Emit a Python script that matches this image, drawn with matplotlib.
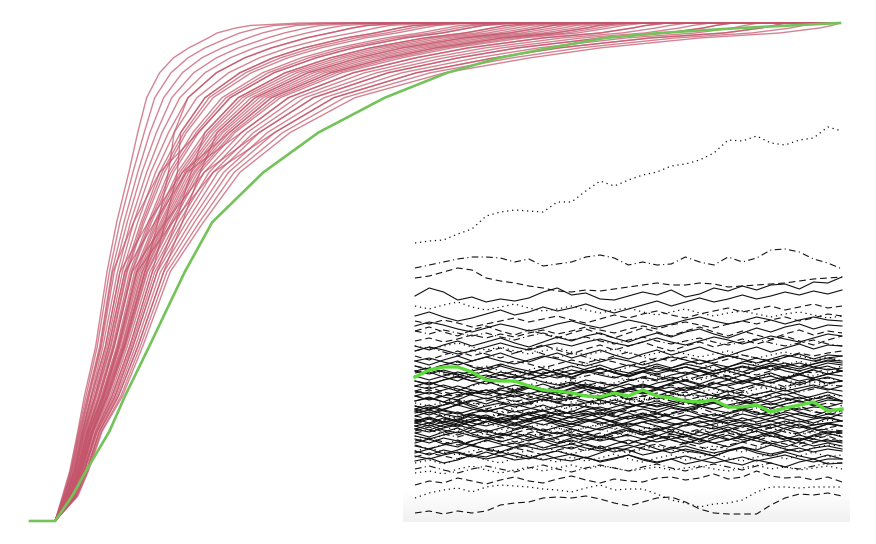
import matplotlib
matplotlib.use('Agg')
import matplotlib.pyplot as plt
from matplotlib.colors import LinearSegmentedColormap
import numpy as np

# ---- main panel: red runs, given as the step where each run reaches a level
levels = [0.05, 0.10, 0.18, 0.25, 0.35, 0.50, 0.60, 0.70, 0.78,
          0.85, 0.90, 0.93, 0.95, 0.97, 0.98, 0.99, 0.995, 1.00]
start_step = 3.1
last_step = 100

red_runs = [
    [4.0, 4.9, 5.9, 6.7, 8.1, 9.5, 10.7, 12.2, 13.3, 14.4, 16.0, 17.7, 19.6, 22.0, 23.1, 25.4, 27.2, 33.3],
    [4.1, 5.0, 6.0, 6.9, 8.3, 9.8, 11.1, 12.7, 14.1, 15.4, 17.4, 19.5, 21.6, 24.4, 25.9, 28.3, 30.1, 36.0],
    [4.2, 5.1, 6.1, 7.1, 8.6, 10.1, 11.6, 13.3, 14.8, 16.5, 18.8, 21.2, 23.7, 26.9, 28.7, 31.2, 32.9, 38.6],
    [4.2, 5.2, 6.3, 7.3, 8.8, 10.4, 12.0, 13.8, 15.6, 17.5, 20.2, 23.0, 25.7, 29.3, 31.4, 34.1, 35.8, 41.3],
    [4.3, 5.3, 6.4, 7.5, 9.0, 10.8, 12.4, 14.4, 16.3, 18.5, 21.6, 24.7, 27.7, 31.7, 34.2, 36.9, 38.7, 44.0],
    [4.4, 5.4, 6.5, 7.6, 9.3, 11.1, 12.8, 14.9, 17.1, 19.5, 23.0, 26.5, 29.8, 34.1, 37.0, 39.8, 41.6, 46.6],
    [4.5, 5.5, 6.6, 7.8, 9.5, 11.4, 13.3, 15.5, 17.8, 20.6, 24.5, 28.3, 31.8, 36.6, 39.8, 42.7, 44.4, 49.3],
    [4.5, 5.5, 6.7, 8.0, 9.7, 11.7, 13.7, 16.0, 18.6, 21.6, 25.9, 30.0, 33.8, 39.0, 42.6, 45.6, 47.3, 52.0],
    [4.6, 5.6, 6.8, 8.1, 9.9, 11.9, 13.9, 16.3, 19.0, 22.1, 26.6, 30.9, 34.9, 40.2, 44.0, 47.1, 48.8, 53.3],
    [4.6, 5.6, 6.9, 8.2, 10.0, 12.0, 14.1, 16.6, 19.3, 22.6, 27.3, 31.8, 35.9, 41.4, 45.3, 48.5, 50.2, 54.6],
    [4.7, 5.7, 7.0, 8.4, 10.2, 12.3, 14.6, 17.1, 20.1, 23.7, 28.7, 33.5, 37.9, 43.9, 48.1, 51.4, 53.1, 57.3],
    [4.8, 5.8, 7.1, 8.5, 10.3, 12.5, 14.8, 17.4, 20.5, 24.2, 29.4, 34.4, 38.9, 45.1, 49.5, 52.8, 54.5, 58.7],
    [4.8, 5.8, 7.1, 8.6, 10.4, 12.6, 15.0, 17.7, 20.8, 24.7, 30.1, 35.3, 39.9, 46.3, 50.9, 54.2, 55.9, 60.0],
    [4.8, 5.9, 7.2, 8.8, 10.7, 12.9, 15.4, 18.2, 21.6, 25.7, 31.5, 37.1, 42.0, 48.7, 53.7, 57.1, 58.8, 62.7],
    [4.9, 6.0, 7.3, 8.9, 10.8, 13.1, 15.6, 18.5, 22.0, 26.2, 32.2, 38.0, 43.0, 49.9, 55.1, 58.6, 60.3, 64.0],
    [4.9, 6.0, 7.3, 9.0, 10.9, 13.2, 15.8, 18.8, 22.3, 26.7, 32.9, 38.8, 44.0, 51.1, 56.5, 60.0, 61.7, 65.3],
    [5.0, 6.1, 7.4, 9.1, 11.0, 13.4, 16.1, 19.1, 22.7, 27.3, 33.6, 39.7, 45.0, 52.4, 57.9, 61.5, 63.1, 66.7],
    [5.0, 6.1, 7.5, 9.1, 11.1, 13.6, 16.3, 19.3, 23.1, 27.8, 34.3, 40.6, 46.0, 53.6, 59.2, 62.9, 64.5, 68.0],
    [5.1, 6.2, 7.6, 9.2, 11.3, 13.8, 16.5, 19.6, 23.5, 28.3, 35.0, 41.5, 47.1, 54.8, 60.6, 64.4, 66.0, 69.4],
    [5.1, 6.2, 7.6, 9.3, 11.4, 13.9, 16.7, 19.9, 23.8, 28.8, 35.7, 42.3, 48.1, 56.0, 62.0, 65.8, 67.4, 70.7],
    [5.1, 6.3, 7.7, 9.4, 11.5, 14.1, 16.9, 20.2, 24.2, 29.3, 36.4, 43.2, 49.1, 57.2, 63.4, 67.3, 68.9, 72.0],
    [5.1, 6.3, 7.7, 9.5, 11.6, 14.2, 17.1, 20.4, 24.6, 29.8, 37.1, 44.1, 50.1, 58.4, 64.8, 68.7, 70.3, 73.3],
    [5.2, 6.4, 7.8, 9.6, 11.7, 14.4, 17.4, 20.7, 25.0, 30.4, 37.8, 45.0, 51.1, 59.7, 66.2, 70.1, 71.8, 74.7],
    [5.2, 6.4, 7.8, 9.7, 11.8, 14.5, 17.6, 21.0, 25.3, 30.9, 38.5, 45.9, 52.1, 60.9, 67.6, 71.5, 73.2, 76.0],
    [5.3, 6.5, 7.9, 9.9, 12.0, 14.8, 18.0, 21.5, 26.1, 31.9, 39.9, 47.6, 54.1, 63.3, 70.4, 74.4, 76.0, 78.7],
    [5.4, 6.6, 8.1, 10.1, 12.3, 15.1, 18.4, 22.1, 26.8, 32.9, 41.3, 49.4, 56.2, 65.7, 73.1, 77.3, 78.9, 81.3],
    [5.4, 6.7, 8.2, 10.3, 12.5, 15.4, 18.8, 22.6, 27.6, 33.9, 42.8, 51.1, 58.2, 68.1, 75.9, 80.2, 81.8, 84.0],
    [5.5, 6.7, 8.3, 10.5, 12.7, 15.7, 19.3, 23.2, 28.3, 35.0, 44.2, 52.9, 60.2, 70.6, 78.7, 83.1, 84.6, 86.7],
    [5.6, 6.9, 8.5, 10.7, 13.0, 16.1, 19.8, 23.9, 29.3, 36.3, 45.9, 55.1, 62.8, 73.6, 82.2, 86.7, 88.2, 90.0],
    [5.7, 7.0, 8.6, 10.9, 13.3, 16.5, 20.3, 24.5, 30.2, 37.5, 47.7, 57.3, 65.3, 76.6, 85.7, 90.3, 91.8, 93.3],
    [5.8, 7.1, 8.8, 11.2, 13.6, 16.9, 20.9, 25.2, 31.2, 38.8, 49.4, 59.5, 67.9, 79.7, 89.1, 93.9, 95.4, 96.7],
    [5.9, 7.2, 8.9, 11.4, 13.9, 17.3, 21.4, 25.9, 32.1, 40.1, 51.2, 61.7, 70.4, 82.7, 92.6, 97.5, 99.0, 100],
    # runs that change place inside the bundle
    [4.5, 5.5, 6.7, 8.0, 9.7, 11.7, 15.4, 19.3, 26.1, 31.9, 39.9, 47.6, 54.1, 63.3, 70.4, 74.4, 76.0, 78.7],
    [5.4, 6.6, 8.1, 10.1, 12.3, 15.1, 16.7, 18.2, 18.6, 21.6, 25.9, 30.0, 33.8, 39.0, 42.6, 45.6, 47.3, 52.0],
    [4.9, 6.0, 7.3, 9.0, 10.9, 13.2, 17.6, 22.6, 30.2, 37.5, 47.7, 57.3, 65.3, 76.6, 85.7, 90.3, 91.8, 93.3],
    [5.7, 7.0, 8.6, 10.9, 13.3, 16.5, 18.8, 21.0, 23.1, 27.8, 34.3, 40.6, 46.0, 53.6, 59.2, 62.9, 64.5, 68.0],
    [4.2, 5.1, 6.2, 7.2, 8.7, 10.2, 12.8, 16.0, 20.8, 24.7, 30.1, 35.3, 39.9, 46.3, 50.9, 54.2, 55.9, 60.0],
    [5.1, 6.3, 7.7, 9.5, 11.6, 14.2, 15.8, 17.1, 17.8, 19.5, 23.0, 26.5, 29.8, 34.1, 37.0, 39.8, 41.6, 46.6],
    [4.8, 5.8, 7.1, 8.6, 10.4, 12.6, 16.7, 21.5, 28.3, 35.0, 44.2, 52.9, 60.2, 70.6, 78.7, 83.1, 84.6, 86.7],
    [4.4, 5.4, 6.5, 7.6, 9.3, 11.1, 14.6, 18.8, 24.6, 29.8, 37.1, 44.1, 50.1, 58.4, 64.8, 68.7, 70.3, 73.3],
    [5.5, 6.7, 8.3, 10.5, 12.7, 15.7, 18.0, 19.9, 21.6, 25.7, 31.5, 37.1, 42.0, 48.7, 53.7, 57.1, 58.8, 62.7],
]
green_run = [5.2, 6.9, 9.8, 11.7, 14.7, 19.1, 22.5, 28.8, 35.6, 43.8, 51.5,
             57.9, 64.2, 71.0, 77.8, 87.7, 93.8, 100]

# ---- inset: walks sampled at 31 equal steps
solid_walks = [
    [225, 233, 229, 221, 224, 219, 222, 220, 223, 229, 233, 226, 228, 222, 221, 225, 229, 226, 231, 224, 227, 233, 230, 235, 231, 236, 237, 232, 239, 238, 244],
    [205, 209, 204, 200, 203, 207, 211, 206, 209, 214, 210, 213, 217, 212, 208, 212, 216, 220, 215, 219, 223, 219, 222, 226, 222, 225, 229, 226, 230, 227, 231],
    [195, 199, 196, 192, 189, 193, 197, 194, 190, 193, 197, 200, 196, 193, 197, 201, 198, 194, 197, 201, 204, 200, 197, 200, 204, 201, 197, 201, 204, 201, 200],
    [170, 174, 171, 167, 170, 174, 178, 174, 171, 175, 178, 175, 179, 182, 178, 175, 179, 183, 179, 176, 180, 184, 181, 177, 181, 185, 182, 179, 183, 187, 185],
    [160, 163, 159, 156, 160, 164, 160, 157, 161, 165, 162, 158, 155, 159, 163, 160, 156, 160, 164, 161, 157, 161, 165, 162, 158, 162, 166, 163, 160, 163, 165],
    [150, 153, 149, 146, 150, 153, 157, 153, 150, 147, 151, 155, 151, 148, 152, 156, 153, 149, 153, 157, 154, 150, 154, 158, 155, 151, 155, 158, 154, 151, 153],
    [145, 141, 145, 149, 146, 142, 146, 150, 147, 143, 147, 151, 148, 152, 149, 145, 149, 153, 150, 154, 151, 147, 151, 155, 152, 156, 153, 150, 154, 158, 156],
    [140, 137, 141, 144, 140, 137, 141, 145, 142, 146, 143, 147, 150, 146, 143, 147, 150, 147, 151, 154, 150, 147, 151, 154, 151, 155, 158, 154, 157, 160, 158],
    [130, 127, 131, 135, 131, 128, 132, 136, 133, 129, 126, 130, 134, 131, 127, 131, 135, 132, 128, 132, 136, 133, 129, 133, 137, 134, 130, 133, 136, 132, 130],
    [125, 121, 125, 129, 126, 122, 126, 130, 127, 131, 128, 132, 135, 131, 128, 132, 136, 133, 137, 140, 136, 133, 137, 140, 137, 141, 144, 140, 143, 147, 145],
    [120, 123, 119, 116, 120, 123, 119, 116, 119, 122, 118, 115, 118, 121, 117, 114, 117, 120, 116, 113, 116, 119, 115, 112, 115, 118, 114, 111, 114, 113, 110],
    [112, 108, 112, 116, 112, 109, 113, 117, 113, 110, 114, 117, 114, 110, 114, 118, 114, 111, 115, 119, 115, 112, 116, 119, 116, 113, 117, 120, 116, 114, 118],
    [108, 111, 107, 104, 108, 111, 107, 104, 107, 110, 106, 103, 106, 109, 105, 102, 105, 108, 104, 101, 104, 107, 103, 100, 103, 106, 102, 99, 102, 104, 100],
    [100, 103, 99, 96, 100, 104, 100, 97, 101, 104, 100, 97, 100, 103, 99, 96, 99, 102, 98, 95, 98, 101, 97, 94, 97, 100, 96, 93, 96, 98, 95],
    [98, 95, 99, 102, 98, 95, 99, 103, 100, 96, 100, 104, 101, 97, 101, 105, 102, 98, 102, 106, 103, 99, 103, 107, 104, 100, 104, 108, 105, 102, 108],
    [92, 89, 93, 96, 92, 89, 93, 97, 93, 90, 94, 97, 94, 91, 95, 98, 94, 91, 95, 99, 95, 92, 96, 99, 96, 93, 97, 100, 96, 98, 100],
    [85, 82, 86, 89, 85, 82, 85, 88, 84, 81, 84, 87, 83, 80, 83, 86, 82, 79, 82, 85, 81, 78, 81, 84, 80, 77, 80, 83, 79, 81, 78],
    [75, 72, 76, 79, 75, 72, 75, 78, 74, 71, 74, 77, 73, 70, 73, 76, 72, 69, 72, 75, 71, 68, 71, 74, 70, 67, 70, 73, 69, 72, 70],
    [65, 62, 66, 69, 65, 62, 65, 68, 64, 61, 64, 67, 63, 60, 63, 66, 62, 59, 62, 65, 61, 58, 61, 64, 60, 63, 66, 62, 59, 62, 62],
    [110, 114, 110, 107, 111, 115, 118, 114, 118, 122, 119, 123, 126, 122, 126, 130, 127, 131, 134, 130, 134, 138, 135, 139, 142, 138, 142, 146, 143, 147, 150],
    [150, 147, 151, 147, 143, 146, 142, 139, 143, 139, 136, 139, 135, 132, 136, 132, 129, 132, 128, 125, 129, 125, 122, 126, 122, 119, 123, 120, 117, 121, 120],
    [95, 98, 94, 98, 102, 99, 103, 106, 102, 106, 110, 107, 111, 114, 110, 114, 118, 115, 119, 122, 118, 122, 126, 123, 127, 130, 126, 130, 134, 131, 135],
    [135, 132, 136, 132, 128, 131, 127, 124, 128, 124, 121, 124, 120, 117, 121, 117, 114, 118, 114, 111, 115, 111, 108, 112, 108, 105, 109, 106, 103, 107, 105],
    [100, 104, 99, 101, 107, 103, 98, 102, 108, 111, 106, 109, 115, 112, 108, 113, 118, 114, 117, 121, 116, 119, 124, 120, 118, 123, 127, 122, 125, 129, 125],
    [110, 106, 111, 108, 103, 106, 101, 104, 109, 105, 100, 97, 102, 99, 95, 99, 104, 100, 96, 99, 94, 97, 101, 98, 93, 96, 100, 95, 92, 97, 95],
    [120, 124, 119, 125, 129, 126, 131, 128, 133, 137, 132, 136, 141, 138, 135, 140, 144, 141, 146, 149, 145, 150, 153, 149, 154, 158, 155, 152, 157, 161, 160],
    [140, 136, 141, 145, 140, 144, 149, 146, 142, 147, 151, 147, 152, 156, 151, 148, 153, 157, 153, 158, 161, 157, 154, 159, 163, 159, 164, 167, 162, 166, 165],
    [115, 111, 116, 120, 114, 110, 113, 109, 112, 116, 111, 107, 110, 106, 111, 108, 103, 107, 104, 100, 105, 102, 98, 103, 99, 103, 107, 102, 98, 103, 100],
    [95, 91, 96, 100, 95, 99, 103, 98, 102, 106, 103, 99, 104, 108, 104, 109, 112, 108, 113, 110, 114, 118, 113, 117, 121, 116, 120, 124, 119, 123, 120],
    [145, 149, 144, 140, 146, 150, 146, 143, 148, 152, 147, 143, 149, 153, 148, 145, 150, 155, 151, 147, 152, 156, 150, 146, 151, 155, 150, 147, 152, 155, 150],
    [125, 129, 124, 121, 127, 131, 126, 130, 134, 129, 133, 137, 132, 128, 133, 137, 133, 138, 141, 136, 132, 137, 141, 137, 142, 145, 140, 136, 141, 144, 140],
    [155, 151, 156, 160, 154, 150, 155, 151, 147, 152, 148, 144, 149, 153, 148, 144, 149, 145, 141, 146, 150, 145, 141, 146, 142, 138, 143, 147, 142, 138, 140],
    [105, 109, 104, 100, 106, 102, 98, 103, 107, 102, 98, 94, 99, 103, 98, 94, 99, 95, 91, 96, 100, 95, 91, 96, 92, 88, 93, 97, 92, 88, 90],
    [135, 139, 134, 130, 136, 140, 135, 131, 136, 132, 128, 133, 137, 132, 128, 133, 129, 125, 130, 134, 129, 125, 130, 126, 122, 127, 131, 126, 122, 126, 120],
    [160, 156, 161, 165, 160, 164, 168, 163, 159, 164, 168, 163, 167, 171, 166, 162, 167, 171, 166, 170, 174, 169, 165, 170, 174, 169, 173, 177, 172, 176, 175],
    [88, 84, 89, 93, 87, 83, 88, 84, 80, 85, 89, 84, 80, 85, 81, 77, 82, 86, 81, 77, 82, 78, 74, 79, 83, 78, 74, 79, 75, 78, 75],
    [98, 102, 97, 94, 100, 104, 99, 95, 100, 104, 100, 105, 108, 103, 99, 104, 108, 103, 107, 111, 106, 102, 107, 111, 106, 110, 114, 109, 105, 110, 112],
    [112, 116, 111, 117, 121, 117, 122, 126, 121, 125, 130, 126, 131, 134, 129, 133, 137, 133, 138, 141, 137, 142, 145, 140, 144, 148, 143, 147, 151, 147, 150],
    [78, 82, 77, 74, 80, 84, 79, 83, 87, 82, 78, 83, 87, 83, 88, 91, 86, 90, 94, 89, 85, 90, 94, 89, 93, 97, 92, 88, 93, 97, 95],
    [60, 63, 58, 61, 66, 64, 69, 65, 62, 67, 70, 66, 63, 68, 73, 71, 66, 69, 74, 70, 68, 65, 70, 74, 71, 76, 72, 69, 73, 75, 72],
    [70, 66, 71, 68, 64, 69, 65, 61, 63, 67, 62, 60, 64, 59, 62, 66, 61, 58, 62, 57, 60, 64, 59, 56, 61, 58, 54, 59, 62, 57, 58],
    [82, 78, 83, 80, 76, 81, 77, 73, 76, 80, 75, 72, 77, 73, 69, 73, 77, 72, 68, 72, 69, 65, 70, 73, 68, 65, 69, 65, 62, 66, 62],
    [92, 96, 91, 88, 94, 90, 86, 91, 95, 90, 87, 92, 88, 84, 89, 93, 88, 85, 90, 86, 82, 87, 91, 86, 83, 88, 84, 80, 85, 88, 84],
    [175, 171, 176, 180, 175, 179, 183, 178, 174, 179, 184, 180, 185, 188, 183, 179, 184, 188, 184, 189, 192, 187, 183, 188, 193, 189, 194, 197, 192, 196, 195],
    [68, 72, 67, 71, 76, 72, 69, 74, 78, 73, 77, 81, 76, 72, 77, 81, 77, 82, 85, 80, 77, 82, 86, 81, 85, 89, 84, 81, 86, 90, 88],
    [102, 98, 103, 99, 95, 100, 96, 92, 97, 101, 96, 92, 88, 93, 97, 92, 88, 92, 87, 84, 89, 85, 81, 86, 90, 85, 82, 86, 82, 79, 80],
]
dashed_walks = [
    [243, 245, 249, 253, 251, 243, 240, 238, 235, 233, 230, 229, 231, 230, 232, 234, 236, 238, 236, 236, 238, 237, 234, 235, 236, 237, 238, 240, 242, 243, 244],
    [200, 197, 201, 198, 194, 197, 200, 203, 199, 202, 205, 201, 198, 202, 206, 203, 207, 210, 206, 203, 207, 210, 213, 209, 212, 215, 211, 214, 217, 213, 215],
    [180, 183, 179, 182, 186, 183, 187, 184, 188, 191, 187, 190, 194, 191, 188, 192, 195, 192, 196, 199, 196, 193, 197, 200, 197, 201, 204, 200, 203, 207, 205],
    [155, 152, 156, 159, 155, 152, 156, 160, 157, 153, 157, 161, 158, 162, 159, 155, 159, 163, 160, 164, 161, 158, 162, 166, 163, 160, 164, 168, 165, 168, 170],
    [128, 131, 127, 124, 128, 131, 127, 124, 127, 130, 126, 123, 126, 129, 125, 122, 125, 128, 124, 121, 124, 127, 123, 120, 123, 126, 122, 119, 122, 124, 120],
    [105, 102, 106, 109, 105, 102, 106, 110, 106, 103, 107, 110, 107, 104, 108, 111, 107, 104, 108, 112, 108, 105, 109, 112, 109, 106, 110, 113, 109, 107, 112],
    [80, 83, 79, 76, 80, 83, 80, 77, 81, 84, 80, 77, 81, 84, 81, 78, 82, 85, 81, 78, 82, 86, 82, 79, 83, 86, 83, 80, 84, 86, 88],
    [36, 40, 38, 43, 40, 37, 41, 44, 40, 38, 42, 45, 41, 38, 42, 40, 39, 43, 44, 41, 43, 47, 42, 44, 50, 45, 43, 44, 41, 44, 39],
    [8, 10, 7, 10, 8, 10, 16, 18, 19, 23, 24, 23, 25, 22, 18, 15, 19, 23, 24, 19, 12, 8, 7, 7, 7, 16, 23, 27, 26, 28, 25],
    [125, 122, 126, 129, 126, 130, 133, 130, 134, 131, 135, 138, 135, 139, 136, 140, 143, 140, 144, 141, 145, 148, 145, 149, 146, 150, 153, 150, 148, 152, 150],
    [130, 134, 129, 126, 131, 127, 123, 128, 125, 121, 126, 122, 118, 123, 127, 122, 119, 124, 120, 116, 121, 118, 114, 119, 116, 112, 117, 120, 115, 118, 115],
    [90, 94, 89, 86, 91, 87, 83, 88, 92, 87, 84, 89, 85, 81, 86, 90, 86, 82, 87, 83, 79, 84, 88, 84, 80, 85, 81, 77, 82, 85, 80],
    [115, 112, 117, 121, 116, 120, 124, 119, 123, 127, 122, 126, 130, 125, 129, 133, 128, 132, 136, 131, 135, 139, 134, 130, 135, 139, 134, 138, 142, 137, 140],
    [165, 161, 166, 170, 165, 169, 173, 168, 172, 176, 171, 167, 172, 176, 171, 175, 179, 174, 170, 175, 179, 174, 178, 182, 177, 181, 185, 180, 176, 181, 185],
    [64, 68, 65, 62, 67, 71, 68, 73, 70, 66, 71, 74, 70, 75, 72, 69, 74, 77, 73, 78, 74, 71, 76, 79, 75, 80, 77, 74, 78, 82, 80],
    [190, 194, 189, 185, 191, 195, 190, 186, 191, 187, 183, 188, 192, 187, 183, 188, 193, 189, 185, 190, 194, 189, 185, 190, 186, 182, 187, 191, 186, 190, 188],
]
dotted_walks = [
    [278, 280, 281, 287, 292, 305, 309, 311, 310, 309, 319, 319, 330, 340, 335, 341, 346, 349, 355, 357, 361, 368, 381, 380, 385, 378, 376, 381, 383, 394, 390],
    [215, 212, 216, 219, 214, 211, 214, 217, 213, 210, 212, 215, 211, 208, 211, 213, 209, 206, 209, 212, 208, 205, 208, 210, 207, 204, 207, 209, 206, 203, 205],
    [175, 172, 175, 178, 174, 171, 174, 170, 167, 170, 173, 169, 166, 169, 172, 168, 165, 168, 171, 167, 164, 167, 170, 166, 163, 166, 169, 165, 162, 164, 160],
    [135, 138, 134, 131, 135, 139, 136, 132, 136, 140, 137, 141, 138, 134, 138, 142, 139, 143, 140, 144, 141, 145, 142, 146, 143, 147, 144, 148, 145, 149, 150],
    [118, 115, 119, 122, 118, 115, 118, 121, 117, 120, 123, 119, 116, 119, 122, 118, 121, 124, 120, 117, 121, 124, 121, 118, 122, 125, 122, 119, 123, 126, 125],
    [95, 98, 94, 91, 95, 98, 94, 91, 94, 97, 93, 90, 93, 96, 92, 89, 92, 95, 91, 88, 91, 94, 90, 87, 90, 93, 89, 86, 89, 88, 85],
    [70, 73, 69, 66, 70, 73, 70, 67, 71, 74, 70, 67, 71, 74, 71, 68, 72, 75, 71, 68, 72, 75, 72, 69, 73, 76, 72, 70, 73, 76, 75],
    [48, 50, 47, 52, 55, 51, 48, 51, 54, 50, 53, 56, 52, 55, 53, 50, 52, 54, 51, 53, 55, 52, 50, 53, 56, 52, 54, 51, 53, 55, 52],
    [23, 28, 31, 33, 29, 34, 36, 35, 34, 32, 31, 29, 33, 36, 31, 32, 32, 27, 21, 18, 14, 17, 18, 21, 29, 34, 34, 33, 34, 34, 34],
    [100, 103, 100, 104, 107, 104, 108, 111, 108, 112, 115, 112, 116, 119, 116, 120, 123, 120, 124, 127, 124, 128, 131, 128, 132, 135, 132, 136, 139, 137, 140],
    [105, 109, 106, 102, 108, 112, 109, 113, 117, 114, 110, 115, 119, 116, 121, 124, 120, 125, 128, 124, 129, 132, 128, 133, 136, 131, 135, 139, 135, 138, 140],
    [85, 81, 86, 90, 85, 88, 92, 88, 84, 89, 93, 89, 94, 97, 92, 96, 99, 95, 91, 96, 100, 95, 99, 103, 98, 94, 99, 102, 97, 101, 100],
    [150, 154, 149, 145, 151, 155, 150, 146, 151, 155, 150, 154, 158, 153, 149, 154, 158, 153, 149, 154, 158, 152, 148, 153, 157, 152, 156, 160, 155, 151, 155],
    [58, 61, 57, 62, 65, 61, 58, 63, 66, 62, 59, 64, 60, 63, 67, 62, 59, 63, 66, 61, 64, 68, 63, 60, 64, 67, 62, 65, 69, 64, 66],
]
dashdot_walks = [
    [253, 256, 259, 262, 264, 264, 263, 259, 262, 255, 257, 259, 264, 266, 263, 256, 259, 256, 257, 264, 259, 256, 264, 259, 263, 271, 272, 269, 262, 258, 252],
    [190, 187, 191, 188, 185, 188, 184, 181, 185, 188, 184, 181, 184, 180, 177, 181, 184, 180, 177, 180, 183, 179, 176, 179, 182, 178, 175, 178, 181, 177, 175],
    [148, 151, 147, 144, 147, 150, 146, 143, 146, 149, 145, 142, 145, 148, 144, 141, 144, 147, 143, 140, 143, 146, 142, 139, 142, 145, 141, 138, 141, 143, 140],
    [115, 112, 116, 119, 116, 112, 116, 120, 117, 121, 118, 122, 125, 121, 118, 122, 125, 122, 126, 129, 125, 122, 126, 129, 126, 130, 133, 129, 132, 136, 135],
    [88, 91, 87, 84, 88, 91, 87, 84, 88, 92, 88, 85, 89, 92, 88, 85, 89, 93, 89, 86, 90, 93, 89, 86, 90, 93, 89, 87, 90, 92, 90],
    [52, 55, 51, 48, 52, 55, 52, 49, 53, 56, 52, 49, 53, 56, 53, 50, 54, 57, 53, 50, 54, 57, 54, 51, 55, 58, 54, 52, 55, 58, 58],
    [100, 97, 101, 105, 99, 103, 107, 102, 99, 104, 108, 103, 107, 111, 106, 102, 107, 110, 105, 109, 113, 108, 104, 109, 113, 108, 112, 115, 110, 106, 110],
    [170, 174, 169, 165, 171, 167, 163, 168, 172, 167, 163, 168, 164, 160, 165, 169, 164, 160, 165, 161, 157, 162, 166, 161, 157, 162, 158, 154, 159, 163, 160],
    [76, 72, 77, 81, 76, 80, 84, 79, 83, 87, 82, 79, 84, 88, 83, 87, 91, 86, 83, 88, 92, 87, 90, 94, 89, 86, 91, 95, 90, 93, 96],
]
green_walk = [144, 151, 154, 154, 149, 141, 140, 140, 135, 131, 130, 128, 125, 124, 128, 125,
              131, 125, 123, 120, 119, 121, 114, 114, 116, 109, 113, 116, 119, 110, 112]

RED = '#c4546a'
GREEN_MAIN = '#74c35a'
GREEN_INSET = '#5cdc3a'
INK = '#111111'


def main():
    fig = plt.figure(figsize=(8.76, 5.44), dpi=100)

    # main panel, fills the whole figure
    ax = fig.add_axes([0, 0, 1, 1])
    ax.set_xlim(-30 / 8.1, (876 - 30) / 8.1)
    ax.set_ylim(-23 / 498, 1 + 23 / 498)
    ax.set_axis_off()

    ys = [0, 0] + levels + [1]
    for run in red_runs:
        xs = [0, start_step] + run + [last_step]
        ax.plot(xs, ys, color=RED, lw=1.0, alpha=0.72)
    ax.plot([0, start_step] + green_run + [last_step], ys,
            color=GREEN_MAIN, lw=1.9, zorder=5)

    # inset with the walks
    ax2 = fig.add_axes([403 / 876, 22 / 544, 447 / 876, 402 / 544])
    ax2.set_axis_off()
    ax2.patch.set_alpha(0)
    xlo, xhi = -12 / 14.233, 30 + 8 / 14.233
    fade_cmap = LinearSegmentedColormap.from_list('fade', ['#f1f1f1', '#ffffff'])
    fade = np.linspace(0, 1, 40).reshape(-1, 1)
    ax2.imshow(fade, extent=(xlo, xhi, -1, 30), origin='lower', cmap=fade_cmap,
               aspect='auto', zorder=0)

    steps = np.arange(len(green_walk))
    for w in solid_walks:
        ax2.plot(steps, w, color=INK, lw=0.8, ls='-')
    for w in dashed_walks:
        ax2.plot(steps, w, color=INK, lw=0.8, ls=(0, (6, 3.5)))
    for w in dotted_walks:
        ax2.plot(steps, w, color=INK, lw=0.9, ls=(0, (1, 3)))
    for w in dashdot_walks:
        ax2.plot(steps, w, color=INK, lw=0.8, ls=(0, (6, 3, 1, 3)))
    ax2.plot(steps, green_walk, color=GREEN_INSET, lw=2.4, zorder=5)

    ax2.set_xlim(xlo, xhi)
    ax2.set_ylim(-1, 401)

    fig.savefig('out.png', dpi=100)
    plt.close(fig)


if __name__ == '__main__':
    main()
